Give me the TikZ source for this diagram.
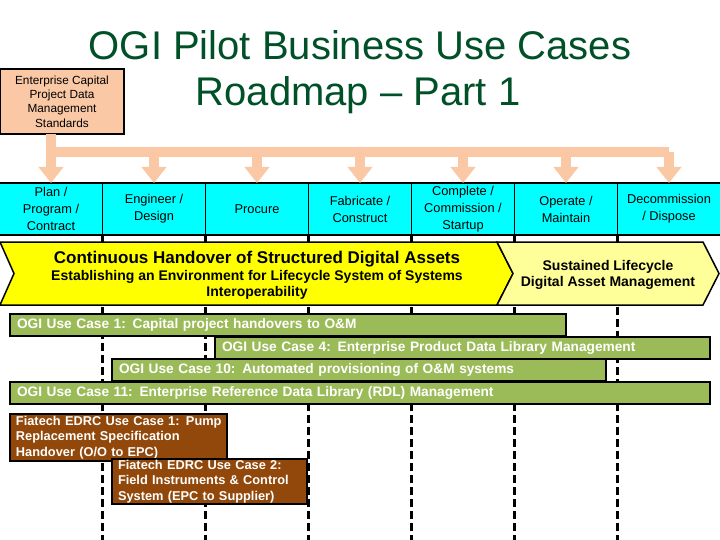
\documentclass[tikz,border=0pt]{standalone}
\usepackage{fontspec}
\setmainfont{Liberation Sans}
\usetikzlibrary{positioning,arrows.meta}

\definecolor{titlegreen}{RGB}{0,80,40}
\definecolor{peach}{RGB}{250,200,165}
\definecolor{phasecyan}{RGB}{0,255,255}
\definecolor{chevyellow}{RGB}{255,255,0}
\definecolor{chevpale}{RGB}{255,255,153}
\definecolor{casegreen}{RGB}{155,187,89}
\definecolor{casebrown}{RGB}{145,72,10}

\begin{document}
\begin{tikzpicture}[x=1pt, y=-1pt, thick,
  title node/.style={anchor=base, text=titlegreen, inner sep=0pt, font=\fontsize{40}{47}\selectfont},
  main node/.style={draw, line width=1.5pt, align=center, inner sep=2pt, outer sep=0pt},
  standard node/.style={main node, line width=2pt, fill=peach, minimum width=124pt, minimum height=65pt, font=\fontsize{11.8}{14.3}\selectfont},
  phase node/.style={main node, fill=phasecyan, minimum width=103pt, minimum height=52pt, font=\fontsize{12.8}{17}\selectfont},
  use case/.style={main node, line width=2pt, fill=casegreen, text=white, anchor=north west, align=left, inner xsep=7pt, inner ysep=0pt, minimum height=22pt, font=\bfseries\fontsize{13.7}{16}\selectfont},
  edrc case/.style={use case, fill=casebrown, inner xsep=6pt, inner ysep=1pt, font=\bfseries\fontsize{12.8}{15.5}\selectfont},
  feed/.style={draw=peach, line width=10pt},
  feed arrow/.style={feed, -{Triangle[width=24pt, length=16pt]}},
  phase line/.style={draw, line width=2.2pt, dash pattern=on 8pt off 4pt},
  chevron/.style={draw, line width=1.5pt},
  chevron text/.style={align=center, inner sep=0pt, font=\bfseries\fontsize{14}{16.5}\selectfont}]

  \path[fill=white, use as bounding box] (0,0) rectangle (720,540);

  % Title
  \node[title node] (title1) at (360,60) {OGI Pilot Business Use Cases};
  \node[title node] (title2) at (358,106) {Roadmap -- Part 1};

  % Define nodes
  \node[standard node] (std) at (62,101.5) {Enterprise Capital\\Project Data\\Management\\Standards};

  \node[phase node] (p1) at (51,209) {Plan /\\Program /\\Contract};
  \node[phase node] (p2) [right=0pt of p1] {Engineer /\\Design};
  \node[phase node] (p3) [right=0pt of p2] {Procure};
  \node[phase node] (p4) [right=0pt of p3] {Fabricate /\\Construct};
  \node[phase node] (p5) [right=0pt of p4] {Complete /\\Commission /\\Startup};
  \node[phase node] (p6) [right=0pt of p5] {Operate /\\Maintain};
  \node[phase node] (p7) [right=0pt of p6] {Decommission\\/ Dispose};

  \coordinate (bus) at (0,152);
  \coordinate (bottom) at (0,540);

  % Standards feed to every phase
  \draw[feed] (p1.north |- std.south) -- (p1.north |- bus) -- (p7.north |- bus);
  \foreach \i in {1,...,7}
    \draw[feed arrow] (p\i.north |- bus) -- (p\i.north);

  % Phase boundaries
  \foreach \i in {1,...,6}
    \draw[phase line] (p\i.south east) -- (p\i.south east |- bottom);

  % Chevrons
  \draw[chevron, fill=chevyellow] (0,242) -- (497,242) -- (513,273.5) -- (497,305) -- (0,305) -- (14,273.5) -- cycle;
  \draw[chevron, fill=chevpale] (497,242) -- (703,242) -- (719,273.5) -- (703,305) -- (497,305) -- (513,273.5) -- cycle;
  \node[chevron text, font=\bfseries\fontsize{17}{20}\selectfont] (handover) at (257,259) {Continuous Handover of Structured Digital Assets};
  \node[chevron text] (environment) at (257,285) {Establishing an Environment for Lifecycle System of Systems\\Interoperability};
  \node[chevron text] (sustained) at (608,275) {Sustained Lifecycle\\Digital Asset Management};

  % Use cases
  \node[use case, text width=542pt] (uc1) at (10,314) {OGI Use Case 1: Capital project handovers to O\&M};
  \node[use case, text width=481pt] (uc4) at (215,337) {OGI Use Case 4: Enterprise Product Data Library Management};
  \node[use case, text width=480pt] (uc10) at (112,359) {OGI Use Case 10: Automated provisioning of O\&M systems};
  \node[use case, text width=686pt] (uc11) at (10,382) {OGI Use Case 11: Enterprise Reference Data Library (RDL) Management};

  \node[edrc case, text width=205pt, minimum height=47pt] (edrc1) at (10,414) {\mbox{Fiatech EDRC Use Case 1: Pump}\\Replacement Specification\\\mbox{Handover (O/O to EPC)}};
  \node[edrc case, text width=183pt, minimum height=44pt] (edrc2) at (112,459) {Fiatech EDRC Use Case 2:\\Field Instruments \& Control\\System (EPC to Supplier)};
\end{tikzpicture}
\end{document}
